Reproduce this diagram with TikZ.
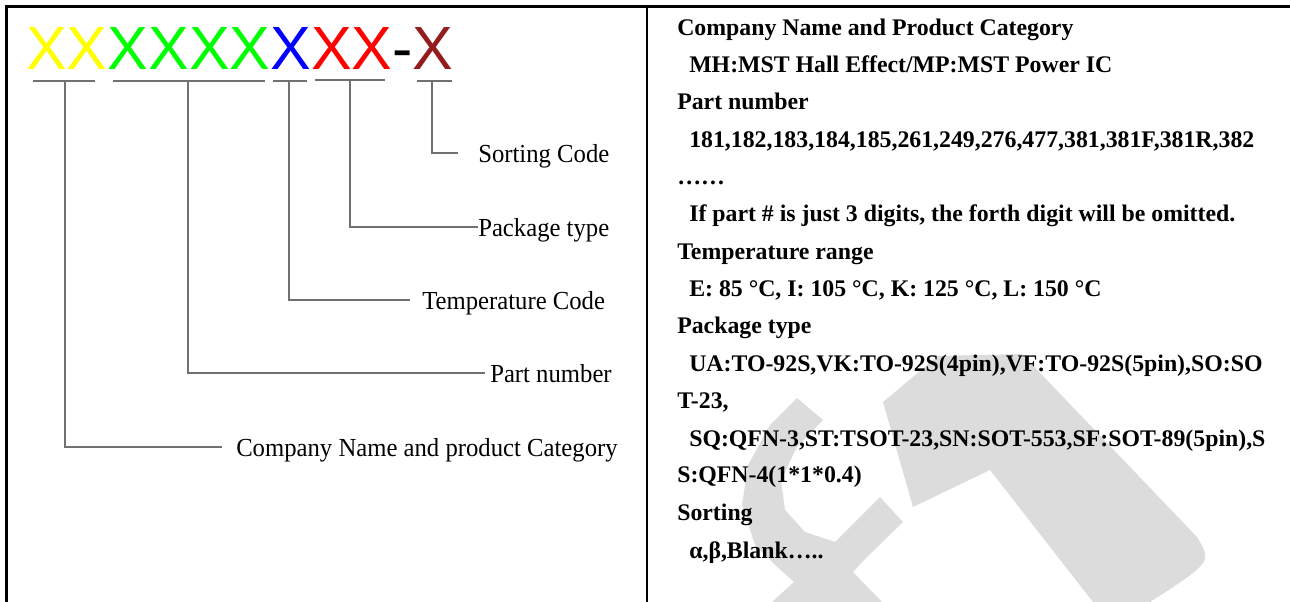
\documentclass[tikz,border=0pt]{standalone}
\usepackage{fontspec}
\setmainfont{Liberation Serif}
\newfontfamily\codefont{Liberation Sans}
\newfontfamily\labfont[FakeStretch=0.95]{Liberation Serif}
\definecolor{wm}{HTML}{DCDCDC}
\definecolor{cyel}{HTML}{FFFF00}
\definecolor{cgrn}{HTML}{00FF00}
\definecolor{cblu}{HTML}{0000FF}
\definecolor{cred}{HTML}{FF0000}
\definecolor{cdrd}{HTML}{941C1C}
\definecolor{conn}{HTML}{707070}
\begin{document}
\begin{tikzpicture}[x=0.75pt,y=-0.75pt,
  desc/.style={anchor=base west,inner sep=0pt,font=\bfseries\fontsize{17.85}{20}\selectfont},
  lab/.style={anchor=base west,inner sep=0pt,font=\labfont\fontsize{19.5}{22}\selectfont},
  conline/.style={draw=conn,line width=0.8pt},
  frame/.style={draw=black,line width=1.9pt}]
\useasboundingbox (0,0) rectangle (1290,602);
% watermark
\fill[wm] (883,402) -- (938,356) -- (1022,354) -- (1197,537)
  .. controls (1212,562) .. (1150,602) -- (1093,602) -- (990,470) -- (913,507) -- cycle;
\fill[wm] (797,398) -- (770,425) -- (748,465) -- (742,505) -- (755,545) -- (775,565)
  -- (794,582) -- (772,602) -- (882,602) -- (853,572) -- (864,560) -- (903,522)
  -- (880,497) -- (835,542) -- (805,532) -- (785,510) -- (781,480) -- (797,447)
  -- (823,420) -- cycle;
% frame
\draw[frame] (6,6.5) -- (1290,6.5);
\draw[frame] (6.5,5.5) -- (6.5,602);
\draw[frame] (647,5.5) -- (647,602);
% code
\node[anchor=base west,inner sep=0pt,font=\codefont\fontsize{45.75}{50}\selectfont] (code) at (26,70)
  {\textcolor{cyel}{XX}\textcolor{cgrn}{XXXX}\textcolor{cblu}{X}\textcolor{cred}{XX}-\textcolor{cdrd}{X}};
% underline segments
\coordinate (a1) at (33,81);  \coordinate (b1) at (95,81);
\coordinate (a2) at (113,81); \coordinate (b2) at (265,81);
\coordinate (a3) at (273,81); \coordinate (b3) at (307,81);
\coordinate (a4) at (315,80); \coordinate (b4) at (385,80);
\coordinate (a5) at (417,81); \coordinate (b5) at (452,81);
\foreach \i in {1,...,5} {\draw[conline] (a\i) -- (b\i);}
\coordinate (s1) at (65,81);
\coordinate (s2) at (188,81);
\coordinate (s3) at (289,81);
\coordinate (s4) at (350,80);
\coordinate (s5) at (432,81);
% labels
\node[lab] (l5) at (478,163) {Sorting Code};
\node[lab] (l4) at (478,237) {Package type};
\node[lab] (l3) at (422,310) {Temperature Code};
\node[lab] (l2) at (490,383) {Part number};
\node[lab] (l1) at (236,456) {Company Name and product Category};
\coordinate (e5) at (458,153);
\coordinate (e4) at (478,227);
\coordinate (e3) at (410,300);
\coordinate (e2) at (485,373);
\coordinate (e1) at (222,447);
\foreach \i in {1,...,5} {\draw[conline] (s\i) |- (e\i);}
% right description
\node[desc] (r1) at (677,36) {Company Name and Product Category};
\node[desc] (r2) at (689,73) {MH:MST Hall Effect/MP:MST Power IC};
\node[desc] (r3) at (677,110) {Part number};
\node[desc] (r4) at (689,148) {181,182,183,184,185,261,249,276,477,381,381F,381R,382};
\node[desc] (r5) at (677,185) {……};
\node[desc] (r6) at (689,222) {If part \# is just 3 digits, the forth digit will be omitted.};
\node[desc] (r7) at (677,260) {Temperature range};
\node[desc] (r8) at (689,297) {E: 85 °C, I: 105 °C, K: 125 °C, L: 150 °C};
\node[desc] (r9) at (677,334) {Package type};
\node[desc] (r10) at (689,372) {UA:TO-92S,VK:TO-92S(4pin),VF:TO-92S(5pin),SO:SO};
\node[desc] (r11) at (677,409) {T-23,};
\node[desc] (r12) at (689,446) {SQ:QFN-3,ST:TSOT-23,SN:SOT-553,SF:SOT-89(5pin),S};
\node[desc] (r13) at (677,483) {S:QFN-4(1*1*0.4)};
\node[desc] (r14) at (677,521) {Sorting};
\node[desc] (r15) at (689,558) {α,β,Blank…..};
\end{tikzpicture}
\end{document}
